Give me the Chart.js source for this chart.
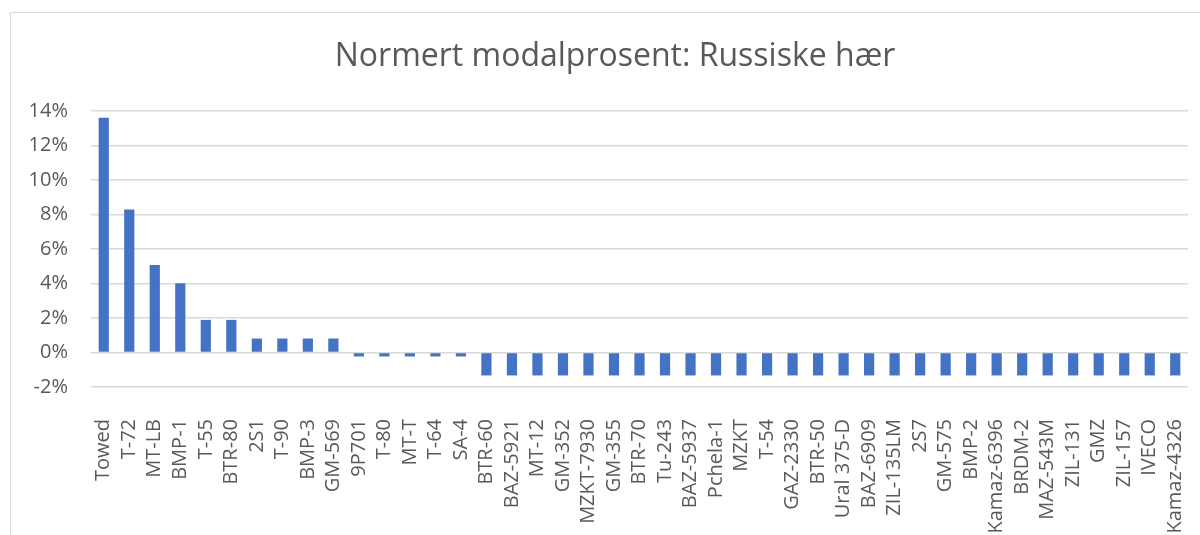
<!DOCTYPE html>
<html>
<head>
<meta charset="utf-8">
<script src="https://cdn.jsdelivr.net/npm/chart.js@4/dist/chart.umd.min.js"></script>
<style>
  body { margin: 0; background: #fff; }
  canvas { display: block; }
</style>
</head>
<body>
<canvas id="myChart" width="1200" height="535"></canvas>
<script>
const chartTitle = "Normert modalprosent: Russiske hær";

const labels = ["Towed", "T-72", "MT-LB", "BMP-1", "T-55", "BTR-80", "2S1", "T-90", "BMP-3", "GM-569",
  "9P701", "T-80", "MT-T", "T-64", "SA-4", "BTR-60", "BAZ-5921", "MT-12", "GM-352", "MZKT-7930",
  "GM-355", "BTR-70", "Tu-243", "BAZ-5937", "Pchela-1", "MZKT", "T-54", "GAZ-2330", "BTR-50", "Ural 375-D",
  "BAZ-6909", "ZIL-135LM", "2S7", "GM-575", "BMP-2", "Kamaz-6396", "BRDM-2", "MAZ-543M", "ZIL-131", "GMZ",
  "ZIL-157", "IVECO", "Kamaz-4326"];

// percent values
const values = [13.61, 8.29, 5.07, 4.01, 1.89, 1.89, 0.81, 0.81, 0.81, 0.81,
  -0.23, -0.23, -0.23, -0.23, -0.23, -1.33, -1.33, -1.33, -1.33, -1.33,
  -1.33, -1.33, -1.33, -1.33, -1.33, -1.33, -1.33, -1.33, -1.33, -1.33,
  -1.33, -1.33, -1.33, -1.33, -1.33, -1.33, -1.33, -1.33, -1.33, -1.33,
  -1.33, -1.33, -1.33];

const yMin = -2, yMax = 14, yStep = 2;

const textColor = "#595959";
const gridColor = "#d9d9d9";
const barColor = "#4472c4";
const fontName = "'Open Sans', sans-serif";

// light frame round the chart box + the title (centred like the office chart, not on the canvas)
const frame = {
  id: "frame",
  beforeDraw(chart) {
    const ctx = chart.ctx;
    ctx.save();
    ctx.fillStyle = "#fff";
    ctx.fillRect(0, 0, chart.width, chart.height);
    ctx.strokeStyle = gridColor;
    ctx.lineWidth = 1;
    ctx.beginPath();
    ctx.moveTo(10.5, chart.height);
    ctx.lineTo(10.5, 12.5);
    ctx.lineTo(chart.width, 12.5);
    ctx.stroke();

    ctx.fillStyle = textColor;
    ctx.font = "32px " + fontName;
    ctx.textAlign = "center";
    ctx.textBaseline = "middle";
    ctx.fillText(chartTitle, 615, 57);
    ctx.restore();
  }
};

new Chart("myChart", {
  type: "bar",
  data: {
    labels: labels,
    datasets: [{
      data: values,
      backgroundColor: barColor,
      categoryPercentage: 1,
      barPercentage: 0.4
    }]
  },
  options: {
    responsive: false,
    animation: false,
    devicePixelRatio: 1,
    layout: { padding: { left: 0, right: 12, top: 111, bottom: 0 } },
    plugins: {
      legend: { display: false },
      tooltip: { enabled: false },
      title: { display: false }
    },
    scales: {
      x: {
        grid: { display: false },
        border: { display: false },
        ticks: {
          autoSkip: false,
          minRotation: 90,
          maxRotation: 90,
          padding: 24,
          color: textColor,
          font: { family: fontName, size: 20 }
        },
        afterFit: (scale) => {
          scale.height = 148;
          scale.paddingLeft = 0;
          scale.paddingRight = 0;
        }
      },
      y: {
        min: yMin,
        max: yMax,
        grid: { color: gridColor, lineWidth: 1.5, drawTicks: false },
        border: { display: false },
        ticks: {
          stepSize: yStep,
          padding: 23,
          color: textColor,
          font: { family: fontName, size: 20 },
          callback: (v) => v + "%"
        },
        afterFit: (scale) => { scale.width = 91; }
      }
    }
  },
  plugins: [frame]
});
</script>
</body>
</html>
